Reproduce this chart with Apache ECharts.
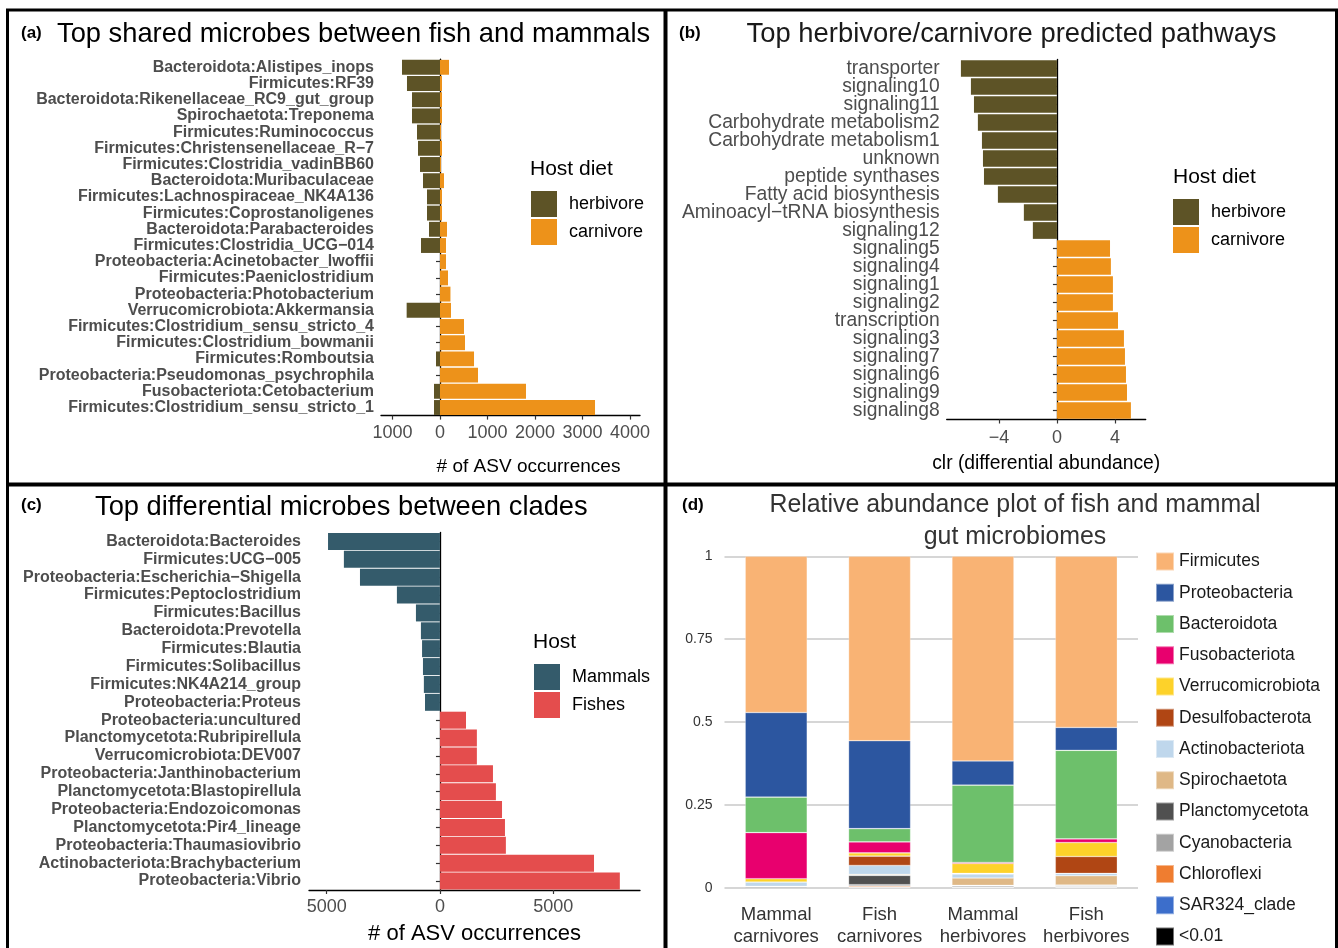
<!DOCTYPE html>
<html>
<head>
<meta charset="utf-8">
<title>Fish and mammal gut microbiomes</title>
<script src="https://cdn.jsdelivr.net/npm/echarts@6/dist/echarts.min.js"></script>
<style>
  html, body { margin: 0; padding: 0; background: #fff; }
  #chart { width: 1338px; height: 948px; }
</style>
</head>
<body>
<div id="chart"></div>
<script>
// (a) shared microbes: ASV occurrences in herbivore / carnivore hosts
const sharedTaxa = [
  'Bacteroidota:Alistipes_inops', 'Firmicutes:RF39', 'Bacteroidota:Rikenellaceae_RC9_gut_group',
  'Spirochaetota:Treponema', 'Firmicutes:Ruminococcus', 'Firmicutes:Christensenellaceae_R\u22127',
  'Firmicutes:Clostridia_vadinBB60', 'Bacteroidota:Muribaculaceae', 'Firmicutes:Lachnospiraceae_NK4A136',
  'Firmicutes:Coprostanoligenes', 'Bacteroidota:Parabacteroides', 'Firmicutes:Clostridia_UCG\u2212014',
  'Proteobacteria:Acinetobacter_lwoffii', 'Firmicutes:Paeniclostridium', 'Proteobacteria:Photobacterium',
  'Verrucomicrobiota:Akkermansia', 'Firmicutes:Clostridium_sensu_stricto_4', 'Firmicutes:Clostridium_bowmanii',
  'Firmicutes:Romboutsia', 'Proteobacteria:Pseudomonas_psychrophila', 'Fusobacteriota:Cetobacterium',
  'Firmicutes:Clostridium_sensu_stricto_1'
];
const sharedHerbivore = [800, 695, 590, 590, 484, 463, 421, 358, 274, 274, 232, 400, 0, 0, 0, 702, 0, 0, 84, 0, 126, 126];
const sharedCarnivore = [189, 42, 42, 42, 21, 42, 21, 84, 42, 42, 147, 126, 126, 168, 220, 232, 505, 526, 716, 800, 1810, 3263];
const sharedTicks = [-1000, 0, 1000, 2000, 3000, 4000];

// (b) predicted pathways: clr differential abundance (negative = herbivore)
const pathwayNames = [
  'transporter', 'signaling10', 'signaling11', 'Carbohydrate metabolism2', 'Carbohydrate metabolism1',
  'unknown', 'peptide synthases', 'Fatty acid biosynthesis', 'Aminoacyl\u2212tRNA biosynthesis', 'signaling12',
  'signaling5', 'signaling4', 'signaling1', 'signaling2', 'transcription',
  'signaling3', 'signaling7', 'signaling6', 'signaling9', 'signaling8'
];
const pathwayClr = [-6.62, -5.93, -5.72, -5.45, -5.17, -5.10, -5.03, -4.07, -2.28, -1.66,
  3.66, 3.72, 3.86, 3.86, 4.21, 4.62, 4.69, 4.76, 4.83, 5.10];
const pathwayTicks = [-4, 0, 4];

// (c) differential microbes between clades (negative = mammals)
const cladeTaxa = [
  'Bacteroidota:Bacteroides', 'Firmicutes:UCG\u2212005', 'Proteobacteria:Escherichia\u2212Shigella',
  'Firmicutes:Peptoclostridium', 'Firmicutes:Bacillus', 'Bacteroidota:Prevotella', 'Firmicutes:Blautia',
  'Firmicutes:Solibacillus', 'Firmicutes:NK4A214_group', 'Proteobacteria:Proteus', 'Proteobacteria:uncultured',
  'Planctomycetota:Rubripirellula', 'Verrucomicrobiota:DEV007', 'Proteobacteria:Janthinobacterium',
  'Planctomycetota:Blastopirellula', 'Proteobacteria:Endozoicomonas', 'Planctomycetota:Pir4_lineage',
  'Proteobacteria:Thaumasiovibrio', 'Actinobacteriota:Brachybacterium', 'Proteobacteria:Vibrio'
];
const cladeCounts = [-4940, -4240, -3530, -1900, -1060, -840, -790, -750, -710, -660,
  1150, 1630, 1630, 2340, 2470, 2740, 2870, 2910, 6800, 7940];
const cladeTicks = [-5000, 0, 5000];

// (d) relative abundance per host group, one array per phylum
const hostGroups = ['Mammal\ncarnivores', 'Fish\ncarnivores', 'Mammal\nherbivores', 'Fish\nherbivores'];
const phyla = ['Firmicutes', 'Proteobacteria', 'Bacteroidota', 'Fusobacteriota', 'Verrucomicrobiota',
  'Desulfobacterota', 'Actinobacteriota', 'Spirochaetota', 'Planctomycetota', 'Cyanobacteria',
  'Chloroflexi', 'SAR324_clade', '<0.01'];
const Firmicutes        = [0.471, 0.556, 0.617, 0.516];
const Proteobacteria    = [0.255, 0.265, 0.073, 0.069];
const Bacteroidota      = [0.107, 0.040, 0.233, 0.267];
const Fusobacteriota    = [0.139, 0.033, 0.003, 0.011];
const Verrucomicrobiota = [0.010, 0.010, 0.030, 0.042];
const Desulfobacterota  = [0.000, 0.028, 0.002, 0.051];
const Actinobacteriota  = [0.013, 0.027, 0.012, 0.007];
const Spirochaetota     = [0.001, 0.003, 0.022, 0.028];
const Planctomycetota   = [0.000, 0.028, 0.001, 0.001];
const Cyanobacteria     = [0.000, 0.004, 0.004, 0.004];
const Chloroflexi       = [0.001, 0.003, 0.001, 0.001];
const SAR324_clade      = [0.000, 0.001, 0.000, 0.001];
const below001          = [0.003, 0.002, 0.002, 0.002];
const abundanceTicks = [0, 0.25, 0.5, 0.75, 1];

const phylumValues = [Firmicutes, Proteobacteria, Bacteroidota, Fusobacteriota, Verrucomicrobiota,
  Desulfobacterota, Actinobacteriota, Spirochaetota, Planctomycetota, Cyanobacteria,
  Chloroflexi, SAR324_clade, below001];
const phylumColors = ['#f9b374', '#2c56a0', '#6dc06b', '#e8006e', '#fdd22a', '#b04614', '#bfd7ec',
  '#dfb886', '#505050', '#a3a3a3', '#ef7d30', '#3c6ecb', '#000000'];

const FONT = '"Liberation Sans", Arial, Helvetica, sans-serif';
const HERB = '#5d5326', CARN = '#ed921a', MAMM = '#345b6b', FISH = '#e44d4d';
const absLabel = v => String(Math.abs(v));
const minusLabel = v => (v < 0 ? '\u2212' + Math.abs(v) : String(v));

function valueAxis(grid, min, max, ticks, fmt, name, nameGap, nameStyle, labelMargin) {
  return {
    gridIndex: grid, type: 'value', min: min, max: max,
    axisLine: { show: true, onZero: false, lineStyle: { color: '#000', width: 1.3 } },
    axisTick: { show: true, length: 4, customValues: ticks, lineStyle: { color: '#333', width: 1.2 } },
    axisLabel: { customValues: ticks, formatter: fmt, fontFamily: FONT, fontSize: 18, color: '#4d4d4d',
      margin: labelMargin || 8 },
    splitLine: { show: false },
    name: name, nameLocation: 'middle', nameGap: nameGap,
    nameTextStyle: Object.assign({ fontFamily: FONT, fontSize: 21, color: '#000', verticalAlign: 'middle' }, nameStyle)
  };
}
function categoryAxis(grid, data, label) {
  return {
    gridIndex: grid, type: 'category', data: data, inverse: true,
    axisLine: { show: true, lineStyle: { color: '#000', width: 1.3 } },
    axisTick: { show: true, length: 4, alignWithLabel: true, lineStyle: { color: '#333', width: 1.2 } },
    axisLabel: Object.assign({ interval: 0, fontFamily: FONT, color: '#4d4d4d', margin: 7 }, label)
  };
}
function barSeries(name, axis, data, color, stack, width) {
  return {
    name: name, type: 'bar', xAxisIndex: axis, yAxisIndex: axis, stack: stack,
    data: data, barWidth: width, itemStyle: { color: color }, animation: false
  };
}

const series = [
  barSeries('herbivore', 0, sharedHerbivore.map(v => -v), HERB, 'a', '92%'),
  barSeries('carnivore', 0, sharedCarnivore, CARN, 'a', '92%'),
  barSeries('herbivore', 1, pathwayClr.map(v => (v < 0 ? v : null)), HERB, 'b', '93%'),
  barSeries('carnivore', 1, pathwayClr.map(v => (v > 0 ? v : null)), CARN, 'b', '93%'),
  barSeries('Mammals', 2, cladeCounts.map(v => (v < 0 ? v : null)), MAMM, 'c', '95%'),
  barSeries('Fishes', 2, cladeCounts.map(v => (v > 0 ? v : null)), FISH, 'c', '95%')
];
// stacked from the bottom: last phylum first, Firmicutes on top
for (let i = phyla.length - 1; i >= 0; i--) {
  series.push({
    name: phyla[i], type: 'bar', xAxisIndex: 3, yAxisIndex: 3, stack: 'd',
    data: phylumValues[i], barWidth: 62, animation: false,
    itemStyle: { color: phylumColors[i], borderColor: 'rgba(255,255,255,0.45)', borderWidth: 0.6 }
  });
}

function legendBox(left, top, names) {
  return {
    data: names, left: left, top: top, orient: 'vertical', padding: 0,
    itemWidth: 26, itemHeight: 26, itemGap: 2, icon: 'rect', selectedMode: false,
    textStyle: { fontFamily: FONT, fontSize: 18, color: '#000', padding: [0, 0, 0, 7] }
  };
}
function text(x, y, str, font, extra) {
  return {
    type: 'text', silent: true,
    style: Object.assign({ x: x, y: y, text: str, font: font, fill: '#000',
      align: 'left', verticalAlign: 'middle', textAlign: 'left', textVerticalAlign: 'middle' }, extra || {})
  };
}

const chart = echarts.init(document.getElementById('chart'), null, { renderer: 'canvas' });
chart.setOption({
  backgroundColor: '#fff',
  animation: false,
  textStyle: { fontFamily: FONT },
  grid: [
    { left: 381, top: 59.2, width: 259, height: 356.4 },
    { left: 946.7, top: 59.5, width: 199, height: 360 },
    { left: 309, top: 532.5, width: 331, height: 357.5 },
    { left: 724.5, top: 556.3, width: 413.5, height: 337 }
  ],
  xAxis: [
    valueAxis(0, -1242, 4210, sharedTicks, absLabel, '# of ASV occurrences', 51,
      { fontSize: 19, padding: [0, 0, 0, 36] }),
    valueAxis(1, -7.6, 6.12, pathwayTicks, minusLabel, 'clr (differential abundance)', 44.5,
      { fontSize: 19.3 }, 10),
    valueAxis(2, -5780, 8830, cladeTicks, absLabel, '# of ASV occurrences', 44, { fontSize: 22 }),
    {
      gridIndex: 3, type: 'category', data: hostGroups,
      axisLine: { show: false }, axisTick: { show: false },
      axisLabel: { fontFamily: FONT, fontSize: 18.5, lineHeight: 22, color: '#333', margin: 16, interval: 0 }
    }
  ],
  yAxis: [
    categoryAxis(0, sharedTaxa, { fontSize: 16, fontWeight: 'bold' }),
    categoryAxis(1, pathwayNames, { fontSize: 19.3, padding: [2, 0, 0, 0] }),
    categoryAxis(2, cladeTaxa, { fontSize: 16, fontWeight: 'bold', margin: 8 }),
    {
      gridIndex: 3, type: 'value', min: 0, max: 1, interval: 0.25,
      axisLine: { show: false }, axisTick: { show: false },
      axisLabel: { customValues: abundanceTicks, fontFamily: FONT, fontSize: 14, color: '#333', margin: 12,
        padding: [3, 0, 0, 0] },
      splitLine: { show: true, lineStyle: { color: '#d6d6d6', width: 2 } }
    }
  ],
  legend: [
    legendBox(531, 191, ['herbivore', 'carnivore']),
    legendBox(1173, 199, ['herbivore', 'carnivore']),
    legendBox(534, 664, ['Mammals', 'Fishes']),
    {
      data: phyla, left: 1155, top: 551, orient: 'vertical', padding: 0,
      itemWidth: 18, itemHeight: 18, itemGap: 10.25, icon: 'rect', selectedMode: false,
      textStyle: { fontFamily: FONT, fontSize: 17.5, lineHeight: 21, color: '#1a1a1a' }
    }
  ],
  series: series,
  graphic: [
    // frame and panel dividers
    { type: 'rect', silent: true, shape: { x: 7.5, y: 10, width: 1329, height: 960 },
      style: { fill: 'none', stroke: '#000', lineWidth: 3 } },
    { type: 'line', silent: true, shape: { x1: 665.5, y1: 10, x2: 665.5, y2: 960 },
      style: { stroke: '#000', lineWidth: 4 } },
    { type: 'line', silent: true, shape: { x1: 7.5, y1: 484.5, x2: 1337, y2: 484.5 },
      style: { stroke: '#000', lineWidth: 4 } },
    // panel tags and titles
    text(21, 33, '(a)', 'bold 17px ' + FONT),
    text(57, 34, 'Top shared microbes between fish and mammals', '27.3px ' + FONT),
    text(679, 33, '(b)', 'bold 17px ' + FONT),
    text(1011.5, 34, 'Top herbivore/carnivore predicted pathways', '27.4px ' + FONT,
      { align: 'center', textAlign: 'center', fill: '#1a1a1a' }),
    text(21, 505, '(c)', 'bold 17px ' + FONT),
    text(95, 507, 'Top differential microbes between clades', '27.3px ' + FONT),
    text(682, 505, '(d)', 'bold 17px ' + FONT),
    text(1015, 521, 'Relative abundance plot of fish and mammal\ngut microbiomes', '24.9px ' + FONT,
      { align: 'center', textAlign: 'center', fill: '#333', lineHeight: 32 }),
    // legend headings
    text(530, 169, 'Host diet', '21px ' + FONT),
    text(1173, 177, 'Host diet', '21px ' + FONT),
    text(533, 642, 'Host', '21px ' + FONT)
  ]
});
</script>
</body>
</html>
